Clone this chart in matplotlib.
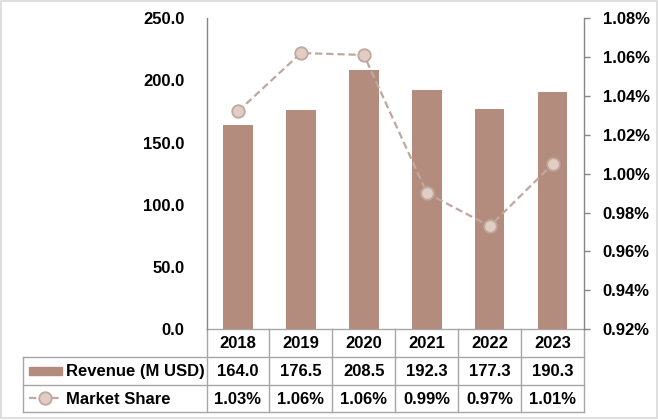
import matplotlib
matplotlib.use("Agg")
import matplotlib.pyplot as plt
import matplotlib.transforms as mtransforms
from matplotlib.patches import Rectangle
from matplotlib.lines import Line2D

# Données
years = ["2018", "2019", "2020", "2021", "2022", "2023"]
revenue = [164.0, 176.5, 208.5, 192.3, 177.3, 190.3]
share = [1.032, 1.062, 1.061, 0.990, 0.973, 1.005]
share_labels = ["1.03%", "1.06%", "1.06%", "0.99%", "0.97%", "1.01%"]
rev_labels = ["164.0", "176.5", "208.5", "192.3", "177.3", "190.3"]

bar_color = "#B48C7E"
line_color = "#BFA89E"
marker_face = "#E2CDC4"
grid_gray = "#A6A6A6"
axis_gray = "#868686"

plt.rcParams["font.family"] = ["Liberation Sans", "DejaVu Sans"]
plt.rcParams["font.weight"] = "bold"
fs = 12

W, H = 658, 420
fig = plt.figure(figsize=(W / 100, H / 100), dpi=100)

# overlay en pixels pour le tableau
over = fig.add_axes([0, 0, 1, 1])
over.set_xlim(0, W)
over.set_ylim(H, 0)
over.axis("off")

x0, x1, y0, y1 = 206.5, 584.3, 18, 329.3
ax = fig.add_axes([x0 / W, (H - y1) / H, (x1 - x0) / W, (y1 - y0) / H])
xs = list(range(len(years)))
ax.bar(xs, revenue, width=0.465, color=bar_color, zorder=2)
ax.set_xlim(-0.5, len(years) - 0.5)
ax.set_ylim(0, 250)
ax.set_yticks([0, 50, 100, 150, 200, 250])
ax.set_yticklabels([f"{v:.1f}" for v in [0, 50, 100, 150, 200, 250]], fontsize=fs, fontweight="bold")
ax.tick_params(axis="y", length=0, pad=16)
ax.set_xticks([])
for s in ["top", "bottom", "right"]:
    ax.spines[s].set_visible(False)
ax.spines["left"].set_color(axis_gray)
ax.spines["left"].set_linewidth(1.0)
ax.patch.set_alpha(0)

dash = (0, (3.3, 1.7))

ax2 = ax.twinx()
ax2.plot(xs, share, linestyle=dash, color=line_color, linewidth=1.6,
         marker="o", markersize=9, markerfacecolor=marker_face,
         markeredgecolor=line_color, markeredgewidth=1.3, zorder=3)
ax2.set_ylim(0.92, 1.08)
ticks = [0.92, 0.94, 0.96, 0.98, 1.00, 1.02, 1.04, 1.06, 1.08]
ax2.set_yticks(ticks)
ax2.set_yticklabels([f"{t:.2f}%" for t in ticks], fontsize=fs, fontweight="bold")
ax2.tick_params(axis="y", length=4.2, width=1.0, color=axis_gray, pad=9)
for s in ["top", "bottom", "left"]:
    ax2.spines[s].set_visible(False)
ax2.spines["right"].set_color(axis_gray)
ax2.spines["right"].set_linewidth(1.0)

# Tableau de données
rows = [329.3, 356.7, 385.0, 411.7]
left_tbl = 23
colw = (x1 - x0) / len(years)
lw = 1.0
over.plot([x0, x1], [rows[0], rows[0]], color=grid_gray, lw=lw)
for r in rows[1:]:
    over.plot([left_tbl, x1], [r, r], color=grid_gray, lw=lw)
over.plot([left_tbl, left_tbl], [rows[1], rows[3]], color=grid_gray, lw=lw)
for i in range(len(years) + 1):
    xx = x0 + i * colw
    over.plot([xx, xx], [rows[0], rows[3]], color=grid_gray, lw=lw)

blend = mtransforms.blended_transform_factory(ax.transData, over.transData)
for i, yr in enumerate(years):
    over.text(i, (rows[0] + rows[1]) / 2 + 1, yr, transform=blend,
              ha="center", va="center", fontsize=fs, fontweight="bold")
    over.text(i, (rows[1] + rows[2]) / 2 + 1, rev_labels[i], transform=blend,
              ha="center", va="center", fontsize=fs, fontweight="bold")
    over.text(i, (rows[2] + rows[3]) / 2 + 1, share_labels[i], transform=blend,
              ha="center", va="center", fontsize=fs, fontweight="bold")

# Légendes dans le tableau
over.add_patch(Rectangle((29, 366.5), 33, 8.5, color=bar_color))
over.text(66.5, (rows[1] + rows[2]) / 2 + 1, "Revenue (M USD)", ha="left", va="center",
          fontsize=fs, fontweight="bold")
ym = (rows[2] + rows[3]) / 2
over.add_line(Line2D([29, 62], [ym, ym], linestyle=dash, color=line_color, lw=1.6))
over.plot([45], [ym], marker="o", markersize=9, markerfacecolor=marker_face,
          markeredgecolor=line_color, markeredgewidth=1.3)
over.text(66.5, ym + 1, "Market Share", ha="left", va="center",
          fontsize=fs, fontweight="bold")

# cadre
over.add_patch(Rectangle((0.5, 0.5), W - 1.5, H - 3, fill=False, edgecolor="#D9D9D9", lw=1.2))

fig.savefig("out.png", dpi=100)
